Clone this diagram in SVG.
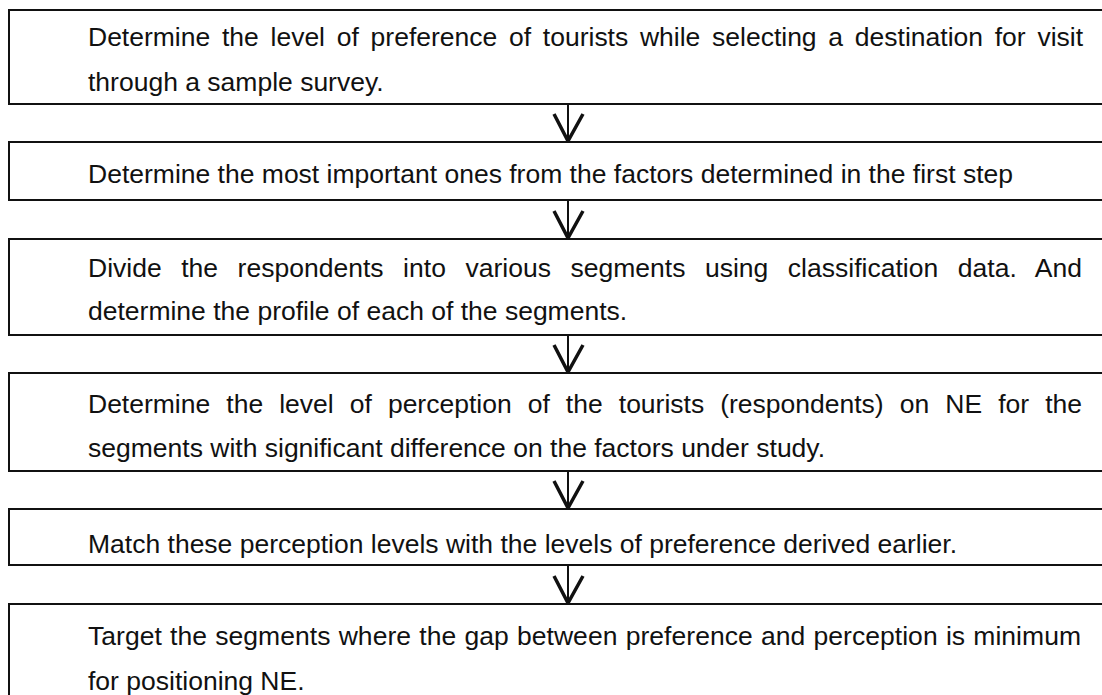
<svg xmlns="http://www.w3.org/2000/svg" width="1102" height="695" viewBox="0 0 1102 695">
<style>
.box{fill:#fff;stroke:#111;stroke-width:2}
.t{font-family:"Liberation Sans",Arial,sans-serif;font-size:26.5px;fill:#111}
.c{stroke:#111;stroke-width:2;fill:none}
</style>
<defs>
<marker id="ah" markerUnits="userSpaceOnUse" markerWidth="34" markerHeight="34" viewBox="-30 -17 34 34" refX="0" refY="0" orient="auto" overflow="visible">
<path d="M-27,-15 L0,0 L-27,14" fill="none" stroke="#111" stroke-width="3.5" stroke-linejoin="miter"/>
</marker>
</defs>
<rect width="1102" height="695" fill="#fff"/>
<g id="connectors">
<line class="c" x1="568" y1="104" x2="568" y2="141" marker-end="url(#ah)"/>
<line class="c" x1="568" y1="200" x2="568" y2="238" marker-end="url(#ah)"/>
<line class="c" x1="568" y1="335" x2="568" y2="372" marker-end="url(#ah)"/>
<line class="c" x1="568" y1="471" x2="568" y2="508" marker-end="url(#ah)"/>
<line class="c" x1="568" y1="565" x2="568" y2="603" marker-end="url(#ah)"/>
</g>
<g id="n1">
<rect class="box" x="9" y="10" width="1110" height="94"/>
<text class="t" x="88" y="46" word-spacing="4.4" textLength="995" lengthAdjust="spacing">Determine the level of preference of tourists while selecting a destination for visit</text>
<text class="t" x="88" y="91">through a sample survey.</text>
</g>
<g id="n2">
<rect class="box" x="9" y="142" width="1110" height="58"/>
<text class="t" x="88" y="183">Determine the most important ones from the factors determined in the first step</text>
</g>
<g id="n3">
<rect class="box" x="9" y="239" width="1110" height="96"/>
<text class="t" x="88" y="277" word-spacing="12.1" textLength="994" lengthAdjust="spacing">Divide the respondents into various segments using classification data. And</text>
<text class="t" x="88" y="320">determine the profile of each of the segments.</text>
</g>
<g id="n4">
<rect class="box" x="9" y="373" width="1110" height="98"/>
<text class="t" x="88" y="413" word-spacing="8.7" textLength="994" lengthAdjust="spacing">Determine the level of perception of the tourists (respondents) on NE for the</text>
<text class="t" x="88" y="457">segments with significant difference on the factors under study.</text>
</g>
<g id="n5">
<rect class="box" x="9" y="509" width="1110" height="56"/>
<text class="t" x="88" y="553">Match these perception levels with the levels of preference derived earlier.</text>
</g>
<g id="n6">
<rect class="box" x="9" y="604" width="1110" height="110"/>
<text class="t" x="88" y="645" word-spacing="0.8" textLength="993" lengthAdjust="spacing">Target the segments where the gap between preference and perception is minimum</text>
<text class="t" x="88" y="690">for positioning NE.</text>
</g>
</svg>
